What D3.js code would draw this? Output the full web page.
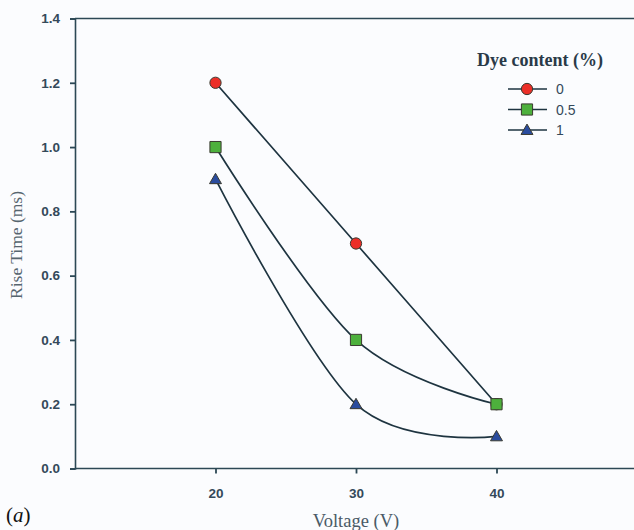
<!DOCTYPE html>
<html>
<head>
<meta charset="utf-8">
<script src="https://cdn.jsdelivr.net/npm/d3@7"></script>
<style>
  html, body { margin: 0; padding: 0; background: #fbfcfe; }
  svg { display: block; }
</style>
</head>
<body>
<svg id="chart" width="634" height="530"></svg>
<script>
// Rise time versus applied voltage for three dye contents
const voltages = [20, 30, 40];
const dyeLabels = ["0", "0.5", "1"];
const riseDye0 = [1.2, 0.7, 0.2];
const riseDye05 = [1.0, 0.4, 0.2];
const riseDye1 = [0.9, 0.2, 0.1];
const xTicks = [20, 30, 40];
const yTicks = [0, 0.2, 0.4, 0.6, 0.8, 1.0, 1.2, 1.4];

const series = [
  { label: dyeLabels[0], values: riseDye0, shape: "circle", fill: "#ec2f28" },
  { label: dyeLabels[1], values: riseDye05, shape: "square", fill: "#4db03c" },
  { label: dyeLabels[2], values: riseDye1, shape: "triangle", fill: "#2a4c9e" }
];

const svg = d3.select("#chart");
const axisColor = "#2c4855";
const lineColor = "#1e3440";

const x = d3.scaleLinear().domain([10, 50]).range([75, 637]);
const y = d3.scaleLinear().domain([0, 1.4]).range([468.5, 18.5]);

// frame: top border line, left and bottom axes
svg.append("line")
  .attr("x1", x(10)).attr("x2", 634)
  .attr("y1", y(1.4)).attr("y2", y(1.4))
  .attr("stroke", axisColor).attr("stroke-width", 1.6);

const xAxis = svg.append("g")
  .attr("transform", `translate(0,${y(0)})`)
  .call(d3.axisBottom(x).tickValues(xTicks).tickSize(5).tickPadding(12).tickFormat(d3.format("d")));

const yAxis = svg.append("g")
  .attr("transform", `translate(${x(10)},0)`)
  .call(d3.axisLeft(y).tickValues(yTicks).tickSize(5).tickPadding(10).tickFormat(d3.format(".1f")));

[xAxis, yAxis].forEach(g => {
  g.select(".domain").attr("stroke", axisColor).attr("stroke-width", 1.6);
  g.selectAll(".tick line").attr("stroke", axisColor).attr("stroke-width", 1.8);
  g.selectAll(".tick text")
    .attr("fill", "#34495a")
    .attr("font-family", "Liberation Sans, Arial, sans-serif")
    .attr("font-weight", "bold")
    .attr("font-size", 13.5);
});
xAxis.select(".domain").attr("d", `M${x(10)},0H634`);
xAxis.selectAll(".tick line").attr("y2", 5);
xAxis.selectAll(".tick text").attr("dy", "0.9em");

// axis titles
svg.append("text")
  .attr("transform", `translate(22,245) rotate(-90)`)
  .attr("text-anchor", "middle")
  .attr("font-family", "Liberation Serif, Times New Roman, serif")
  .attr("font-size", 17.5)
  .attr("fill", "#56656f")
  .text("Rise Time (ms)");

svg.append("text")
  .attr("x", 356).attr("y", 527)
  .attr("text-anchor", "middle")
  .attr("font-family", "Liberation Serif, Times New Roman, serif")
  .attr("font-size", 18.5)
  .attr("fill", "#4a5a66")
  .text("Voltage (V)");

svg.append("text")
  .attr("x", 6).attr("y", 522)
  .attr("font-family", "Liberation Serif, Times New Roman, serif")
  .attr("font-size", 21)
  .attr("fill", "#111")
  .html("(<tspan font-style='italic'>a</tspan>)");

// smoothed lines through the measured points
const line = d3.line()
  .x((d, i) => x(voltages[i]))
  .y(d => y(d))
  .curve(d3.curveCardinal.tension(0));

series.forEach(s => {
  svg.append("path")
    .attr("d", line(s.values))
    .attr("fill", "none")
    .attr("stroke", lineColor)
    .attr("stroke-width", 1.7);
});

// marker symbols
const symbolFor = shape => {
  if (shape === "circle") return d3.symbol(d3.symbolCircle, 100)();
  if (shape === "square") return d3.symbol(d3.symbolSquare, 125)();
  return d3.symbol(d3.symbolTriangle, 62)();
};

series.forEach(s => {
  svg.append("g").selectAll("path")
    .data(s.values)
    .join("path")
    .attr("transform", (d, i) => `translate(${x(voltages[i])},${y(d) + (s.shape === "triangle" ? 1 : 0)})`)
    .attr("d", symbolFor(s.shape))
    .attr("fill", s.fill)
    .attr("stroke", "#3a3a30")
    .attr("stroke-width", 1);
});

// legend
const legend = svg.append("g");
legend.append("text")
  .attr("x", 540).attr("y", 66)
  .attr("text-anchor", "middle")
  .attr("font-family", "Liberation Serif, Times New Roman, serif")
  .attr("font-weight", "bold")
  .attr("font-size", 18)
  .attr("fill", "#2a3a48")
  .text("Dye content (%)");

series.forEach((s, i) => {
  const ly = 89 + i * 20.5;
  legend.append("line")
    .attr("x1", 508).attr("x2", 547)
    .attr("y1", ly).attr("y2", ly)
    .attr("stroke", lineColor).attr("stroke-width", 1.7);
  legend.append("path")
    .attr("transform", `translate(527,${ly + (s.shape === "triangle" ? 1 : 0)})`)
    .attr("d", symbolFor(s.shape))
    .attr("fill", s.fill)
    .attr("stroke", "#3a3a30")
    .attr("stroke-width", 1);
  legend.append("text")
    .attr("x", 556).attr("y", ly + 5)
    .attr("font-family", "Liberation Sans, Arial, sans-serif")
    .attr("font-size", 14)
    .attr("fill", "#34495a")
    .text(s.label);
});
</script>
</body>
</html>
